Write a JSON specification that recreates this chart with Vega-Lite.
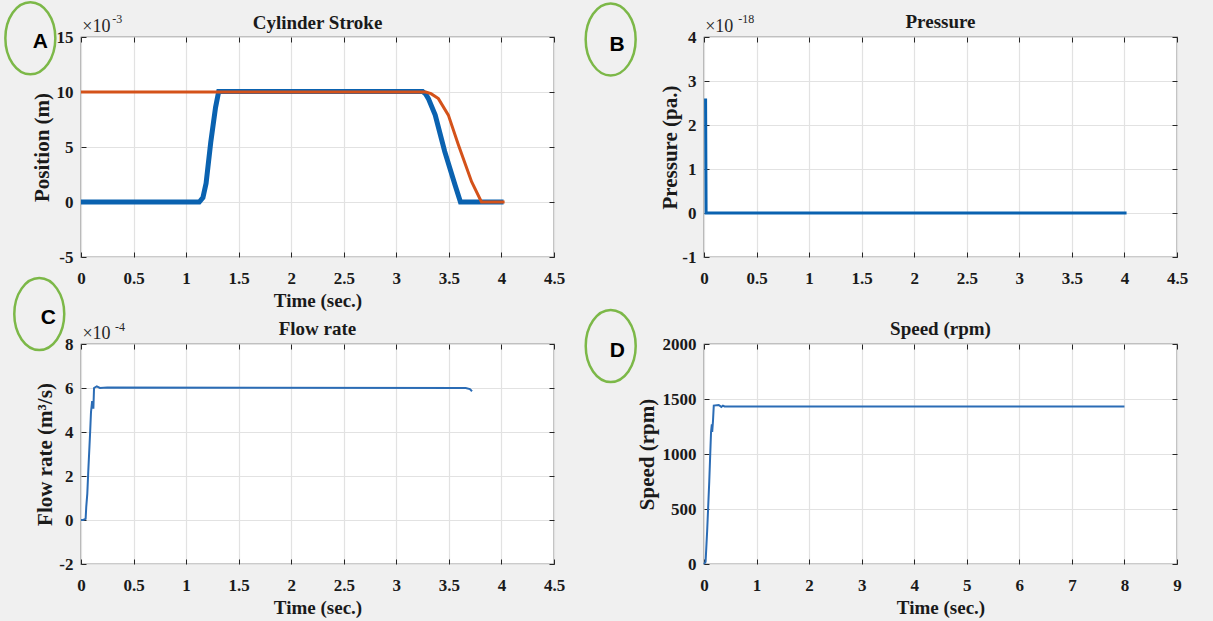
{
  "$schema": "https://vega.github.io/schema/vega-lite/v6.json",
  "background": "#f0f0f0",
  "padding": {"left": 3, "top": 0, "right": 29, "bottom": 5},
  "autosize": {"type": "pad"},
  "config": {
    "view": {"fill": "white", "stroke": "#333333", "strokeWidth": 1.2},
    "axis": {
      "domain": false,
      "tickColor": "#262626",
      "tickWidth": 1,
      "gridColor": "#e2e2e2",
      "gridWidth": 1.2,
      "gridOpacity": 1,
      "labelFont": "Liberation Serif",
      "labelFontWeight": "bold",
      "labelFontSize": 17,
      "labelColor": "#1a1a1a",
      "labelFlush": false,
      "labelOverlap": false,
      "titleFont": "Liberation Serif",
      "titleFontWeight": "bold",
      "titleFontSize": 19,
      "titleColor": "#1a1a1a"
    },
    "axisY": {"titleFontSize": 21}
  },
  "datasets": {
    "stroke": [
      {"t": 0, "v": 0, "series": "Piston"},
      {"t": 1.125, "v": 0, "series": "Piston"},
      {"t": 1.16, "v": 0.4, "series": "Piston"},
      {"t": 1.19, "v": 1.7, "series": "Piston"},
      {"t": 1.234, "v": 5.4, "series": "Piston"},
      {"t": 1.28, "v": 8.6, "series": "Piston"},
      {"t": 1.31, "v": 10.05, "series": "Piston"},
      {"t": 3.25, "v": 10.05, "series": "Piston"},
      {"t": 3.28, "v": 9.8, "series": "Piston"},
      {"t": 3.305, "v": 9.4, "series": "Piston"},
      {"t": 3.37, "v": 7.9, "series": "Piston"},
      {"t": 3.46, "v": 4.6, "series": "Piston"},
      {"t": 3.56, "v": 1.5, "series": "Piston"},
      {"t": 3.61, "v": 0, "series": "Piston"},
      {"t": 4.02, "v": 0, "series": "Piston"},
      {"t": 0, "v": 10, "series": "Reference"},
      {"t": 3.28, "v": 10, "series": "Reference"},
      {"t": 3.33, "v": 9.85, "series": "Reference"},
      {"t": 3.4, "v": 9.4, "series": "Reference"},
      {"t": 3.495, "v": 7.9, "series": "Reference"},
      {"t": 3.59, "v": 5.2, "series": "Reference"},
      {"t": 3.716, "v": 1.85, "series": "Reference"},
      {"t": 3.81, "v": 0, "series": "Reference"},
      {"t": 4.03, "v": 0, "series": "Reference"}
    ],
    "pressure": [
      {"t": 0.015, "v": 2.6},
      {"t": 0.02, "v": 0},
      {"t": 4.02, "v": 0}
    ],
    "flow": [
      {"t": 0, "v": 0},
      {"t": 0.02, "v": 0},
      {"t": 0.044, "v": 0.05},
      {"t": 0.05, "v": 0.6},
      {"t": 0.06, "v": 1.2},
      {"t": 0.069, "v": 2.2},
      {"t": 0.087, "v": 4.0},
      {"t": 0.095, "v": 4.9},
      {"t": 0.106, "v": 5.4},
      {"t": 0.112, "v": 5.1},
      {"t": 0.118, "v": 5.1},
      {"t": 0.124, "v": 6.0},
      {"t": 0.15, "v": 6.07},
      {"t": 0.18, "v": 6.0},
      {"t": 0.25, "v": 6.02},
      {"t": 3.66, "v": 6.0},
      {"t": 3.7, "v": 5.95},
      {"t": 3.72, "v": 5.85}
    ],
    "speed": [
      {"t": 0, "v": 0},
      {"t": 0.03, "v": 20},
      {"t": 0.06, "v": 300},
      {"t": 0.1, "v": 750},
      {"t": 0.134, "v": 1200},
      {"t": 0.149, "v": 1270},
      {"t": 0.156, "v": 1200},
      {"t": 0.171, "v": 1300},
      {"t": 0.186, "v": 1440},
      {"t": 0.28, "v": 1445},
      {"t": 0.33, "v": 1428},
      {"t": 0.36, "v": 1440},
      {"t": 0.39, "v": 1432},
      {"t": 8, "v": 1432}
    ]
  },
  "concat": [
    {
      "width": 473, "height": 220,
      "encoding": {
        "x": {"field": "t", "type": "quantitative", "scale": {"domain": [0, 4.5], "nice": false, "zero": false}, "axis": null},
        "y": {"field": "v", "type": "quantitative", "scale": {"domain": [-5, 15], "nice": false, "zero": false}, "axis": null}
      },
      "layer": [
        {
          "data": {"name": "stroke"},
          "transform": [{"filter": "datum.series === 'Piston'"}],
          "mark": {"type": "line", "color": "#0a62b0", "strokeWidth": 5},
          "encoding": {
            "x": {"field": "t", "type": "quantitative", "scale": {"domain": [0, 4.5], "nice": false, "zero": false},
              "axis": {"values": [0, 0.5, 1, 1.5, 2, 2.5, 3, 3.5, 4, 4.5], "title": "Time (sec.)", "grid": true, "tickSize": -5, "labelPadding": 18, "titlePadding": 5, "labelExpr": "'' + datum.value"}},
            "y": {"field": "v", "type": "quantitative", "scale": {"domain": [-5, 15], "nice": false, "zero": false},
              "axis": {"values": [-5, 0, 5, 10, 15], "title": "Position (m)", "grid": true, "tickSize": -5, "labelPadding": 13, "titlePadding": 4, "labelExpr": "'' + datum.value"}}
          }
        },
        {
          "data": {"name": "stroke"},
          "transform": [{"filter": "datum.series === 'Reference'"}],
          "mark": {"type": "line", "color": "#d4521a", "strokeWidth": 3}
        },
        {
          "data": {"values": [{"t": -0.482, "v": 14.89}]},
          "mark": {"type": "point", "shape": "M0,-1C0.3833,-1,0.694,-0.5523,0.694,0C0.694,0.5523,0.3833,1,0,1C-0.3833,1,-0.694,0.5523,-0.694,0C-0.694,-0.5523,-0.3833,-1,0,-1Z", "size": 5184, "filled": false, "color": "#7cb848", "strokeWidth": 2.5, "strokeJoin": "round", "opacity": 1},
          "encoding": {
            "x": {"field": "t", "type": "quantitative", "scale": {"domain": [0, 4.5], "nice": false, "zero": false},
              "axis": {"orient": "top", "values": [0, 0.5, 1, 1.5, 2, 2.5, 3, 3.5, 4, 4.5], "labels": false, "title": null, "grid": false, "tickSize": -5}},
            "y": {"field": "v", "type": "quantitative", "scale": {"domain": [-5, 15], "nice": false, "zero": false},
              "axis": {"orient": "right", "values": [-5, 0, 5, 10, 15], "labels": false, "title": null, "grid": false, "tickSize": -5}}
          }
        },
        {
          "data": {"values": [{"t": -0.386, "v": 14.57, "label": "A"}]},
          "mark": {"type": "text", "font": "Liberation Sans", "fontWeight": "bold", "fontSize": 21, "color": "black"},
          "encoding": {"text": {"field": "label"}}
        },
        {
          "data": {"values": [{"t": 2.25, "v": 15.75, "label": "Cylinder Stroke"}]},
          "mark": {"type": "text", "baseline": "alphabetic", "font": "Liberation Serif", "fontWeight": "bold", "fontSize": 19, "color": "#1a1a1a"},
          "encoding": {"text": {"field": "label"}}
        },
        {
          "data": {"values": [{"t": 0.012, "v": 15.94, "label": "×10"}]},
          "mark": {"type": "text", "align": "left", "font": "Liberation Serif", "fontSize": 18, "color": "#262626"},
          "encoding": {"text": {"field": "label"}}
        },
        {
          "data": {"values": [{"t": 0.297, "v": 16.66, "label": "-3"}]},
          "mark": {"type": "text", "align": "left", "font": "Liberation Serif", "fontSize": 12, "color": "#262626"},
          "encoding": {"text": {"field": "label"}}
        }
      ],
      "resolve": {"axis": {"x": "independent", "y": "independent"}}
    },
    {
      "width": 473, "height": 220,
      "encoding": {
        "x": {"field": "t", "type": "quantitative", "scale": {"domain": [0, 4.5], "nice": false, "zero": false}, "axis": null},
        "y": {"field": "v", "type": "quantitative", "scale": {"domain": [-1, 4], "nice": false, "zero": false}, "axis": null}
      },
      "layer": [
        {
          "data": {"name": "pressure"},
          "mark": {"type": "line", "color": "#0a62b0", "strokeWidth": 3},
          "encoding": {
            "x": {"field": "t", "type": "quantitative", "scale": {"domain": [0, 4.5], "nice": false, "zero": false},
              "axis": {"values": [0, 0.5, 1, 1.5, 2, 2.5, 3, 3.5, 4, 4.5], "title": null, "grid": true, "tickSize": -5, "labelPadding": 18, "labelExpr": "'' + datum.value"}},
            "y": {"field": "v", "type": "quantitative", "scale": {"domain": [-1, 4], "nice": false, "zero": false},
              "axis": {"values": [-1, 0, 1, 2, 3, 4], "title": "Pressure (pa.)", "grid": true, "tickSize": -5, "labelPadding": 13, "titlePadding": 1, "labelExpr": "'' + datum.value"}}
          }
        },
        {
          "data": {"values": [{"t": -0.888, "v": 3.945}]},
          "mark": {"type": "point", "shape": "M0,-1C0.3833,-1,0.694,-0.5523,0.694,0C0.694,0.5523,0.3833,1,0,1C-0.3833,1,-0.694,0.5523,-0.694,0C-0.694,-0.5523,-0.3833,-1,0,-1Z", "size": 5184, "filled": false, "color": "#7cb848", "strokeWidth": 2.5, "strokeJoin": "round", "opacity": 1},
          "encoding": {
            "x": {"field": "t", "type": "quantitative", "scale": {"domain": [0, 4.5], "nice": false, "zero": false},
              "axis": {"orient": "top", "values": [0, 0.5, 1, 1.5, 2, 2.5, 3, 3.5, 4, 4.5], "labels": false, "title": null, "grid": false, "tickSize": -5}},
            "y": {"field": "v", "type": "quantitative", "scale": {"domain": [-1, 4], "nice": false, "zero": false},
              "axis": {"orient": "right", "values": [-1, 0, 1, 2, 3, 4], "labels": false, "title": null, "grid": false, "tickSize": -5}}
          }
        },
        {
          "data": {"values": [{"t": -0.826, "v": 3.825, "label": "B"}]},
          "mark": {"type": "text", "font": "Liberation Sans", "fontWeight": "bold", "fontSize": 21, "color": "black"},
          "encoding": {"text": {"field": "label"}}
        },
        {
          "data": {"values": [{"t": 2.25, "v": 4.2, "label": "Pressure"}]},
          "mark": {"type": "text", "baseline": "alphabetic", "font": "Liberation Serif", "fontWeight": "bold", "fontSize": 19, "color": "#1a1a1a"},
          "encoding": {"text": {"field": "label"}}
        },
        {
          "data": {"values": [{"t": 0.011, "v": 4.234, "label": "×10"}]},
          "mark": {"type": "text", "align": "left", "font": "Liberation Serif", "fontSize": 18, "color": "#262626"},
          "encoding": {"text": {"field": "label"}}
        },
        {
          "data": {"values": [{"t": 0.327, "v": 4.416, "label": "-18"}]},
          "mark": {"type": "text", "align": "left", "font": "Liberation Serif", "fontSize": 12, "color": "#262626"},
          "encoding": {"text": {"field": "label"}}
        }
      ],
      "resolve": {"axis": {"x": "independent", "y": "independent"}}
    },
    {
      "width": 473, "height": 220,
      "encoding": {
        "x": {"field": "t", "type": "quantitative", "scale": {"domain": [0, 4.5], "nice": false, "zero": false}, "axis": null},
        "y": {"field": "v", "type": "quantitative", "scale": {"domain": [-2, 8], "nice": false, "zero": false}, "axis": null}
      },
      "layer": [
        {
          "data": {"name": "flow"},
          "mark": {"type": "line", "color": "#2b6cb5", "strokeWidth": 2},
          "encoding": {
            "x": {"field": "t", "type": "quantitative", "scale": {"domain": [0, 4.5], "nice": false, "zero": false},
              "axis": {"values": [0, 0.5, 1, 1.5, 2, 2.5, 3, 3.5, 4, 4.5], "title": "Time (sec.)", "grid": true, "tickSize": -5, "labelPadding": 18, "titlePadding": 5, "labelExpr": "'' + datum.value"}},
            "y": {"field": "v", "type": "quantitative", "scale": {"domain": [-2, 8], "nice": false, "zero": false},
              "axis": {"values": [-2, 0, 2, 4, 6, 8], "title": "Flow rate (m³/s)", "grid": true, "tickSize": -5, "labelPadding": 13, "titlePadding": 3, "labelExpr": "'' + datum.value"}}
          }
        },
        {
          "data": {"values": [{"t": -0.397, "v": 9.36}]},
          "mark": {"type": "point", "shape": "M0,-1C0.3833,-1,0.694,-0.5523,0.694,0C0.694,0.5523,0.3833,1,0,1C-0.3833,1,-0.694,0.5523,-0.694,0C-0.694,-0.5523,-0.3833,-1,0,-1Z", "size": 5184, "filled": false, "color": "#7cb848", "strokeWidth": 2.5, "strokeJoin": "round", "opacity": 1},
          "encoding": {
            "x": {"field": "t", "type": "quantitative", "scale": {"domain": [0, 4.5], "nice": false, "zero": false},
              "axis": {"orient": "top", "values": [0, 0.5, 1, 1.5, 2, 2.5, 3, 3.5, 4, 4.5], "labels": false, "title": null, "grid": false, "tickSize": -5}},
            "y": {"field": "v", "type": "quantitative", "scale": {"domain": [-2, 8], "nice": false, "zero": false},
              "axis": {"orient": "right", "values": [-2, 0, 2, 4, 6, 8], "labels": false, "title": null, "grid": false, "tickSize": -5}}
          }
        },
        {
          "data": {"values": [{"t": -0.311, "v": 9.17, "label": "C"}]},
          "mark": {"type": "text", "font": "Liberation Sans", "fontWeight": "bold", "fontSize": 21, "color": "black"},
          "encoding": {"text": {"field": "label"}}
        },
        {
          "data": {"values": [{"t": 2.25, "v": 8.42, "label": "Flow rate"}]},
          "mark": {"type": "text", "baseline": "alphabetic", "font": "Liberation Serif", "fontWeight": "bold", "fontSize": 19, "color": "#1a1a1a"},
          "encoding": {"text": {"field": "label"}}
        },
        {
          "data": {"values": [{"t": 0.014, "v": 8.45, "label": "×10"}]},
          "mark": {"type": "text", "align": "left", "font": "Liberation Serif", "fontSize": 18, "color": "#262626"},
          "encoding": {"text": {"field": "label"}}
        },
        {
          "data": {"values": [{"t": 0.323, "v": 8.77, "label": "-4"}]},
          "mark": {"type": "text", "align": "left", "font": "Liberation Serif", "fontSize": 12, "color": "#262626"},
          "encoding": {"text": {"field": "label"}}
        }
      ],
      "resolve": {"axis": {"x": "independent", "y": "independent"}}
    },
    {
      "width": 473, "height": 220,
      "encoding": {
        "x": {"field": "t", "type": "quantitative", "scale": {"domain": [0, 9], "nice": false, "zero": false}, "axis": null},
        "y": {"field": "v", "type": "quantitative", "scale": {"domain": [0, 2000], "nice": false, "zero": false}, "axis": null}
      },
      "layer": [
        {
          "data": {"name": "speed"},
          "mark": {"type": "line", "color": "#2b6cb5", "strokeWidth": 2},
          "encoding": {
            "x": {"field": "t", "type": "quantitative", "scale": {"domain": [0, 9], "nice": false, "zero": false},
              "axis": {"values": [0, 1, 2, 3, 4, 5, 6, 7, 8, 9], "title": "Time (sec.)", "grid": true, "tickSize": -5, "labelPadding": 18, "titlePadding": 5, "labelExpr": "'' + datum.value"}},
            "y": {"field": "v", "type": "quantitative", "scale": {"domain": [0, 2000], "nice": false, "zero": false},
              "axis": {"values": [0, 500, 1000, 1500, 2000], "title": "Speed (rpm)", "grid": true, "tickSize": -5, "labelPadding": 13, "titlePadding": 5, "labelExpr": "'' + datum.value"}}
          }
        },
        {
          "data": {"values": [{"t": -1.775, "v": 1982}]},
          "mark": {"type": "point", "shape": "M0,-1C0.3833,-1,0.694,-0.5523,0.694,0C0.694,0.5523,0.3833,1,0,1C-0.3833,1,-0.694,0.5523,-0.694,0C-0.694,-0.5523,-0.3833,-1,0,-1Z", "size": 5184, "filled": false, "color": "#7cb848", "strokeWidth": 2.5, "strokeJoin": "round", "opacity": 1},
          "encoding": {
            "x": {"field": "t", "type": "quantitative", "scale": {"domain": [0, 9], "nice": false, "zero": false},
              "axis": {"orient": "top", "values": [0, 1, 2, 3, 4, 5, 6, 7, 8, 9], "labels": false, "title": null, "grid": false, "tickSize": -5}},
            "y": {"field": "v", "type": "quantitative", "scale": {"domain": [0, 2000], "nice": false, "zero": false},
              "axis": {"orient": "right", "values": [0, 500, 1000, 1500, 2000], "labels": false, "title": null, "grid": false, "tickSize": -5}}
          }
        },
        {
          "data": {"values": [{"t": -1.65, "v": 1936, "label": "D"}]},
          "mark": {"type": "text", "font": "Liberation Sans", "fontWeight": "bold", "fontSize": 21, "color": "black"},
          "encoding": {"text": {"field": "label"}}
        },
        {
          "data": {"values": [{"t": 4.5, "v": 2082, "label": "Speed (rpm)"}]},
          "mark": {"type": "text", "baseline": "alphabetic", "font": "Liberation Serif", "fontWeight": "bold", "fontSize": 19, "color": "#1a1a1a"},
          "encoding": {"text": {"field": "label"}}
        }
      ],
      "resolve": {"axis": {"x": "independent", "y": "independent"}}
    }
  ],
  "columns": 2,
  "spacing": {"row": 87, "column": 150},
  "bounds": "flush"
}
